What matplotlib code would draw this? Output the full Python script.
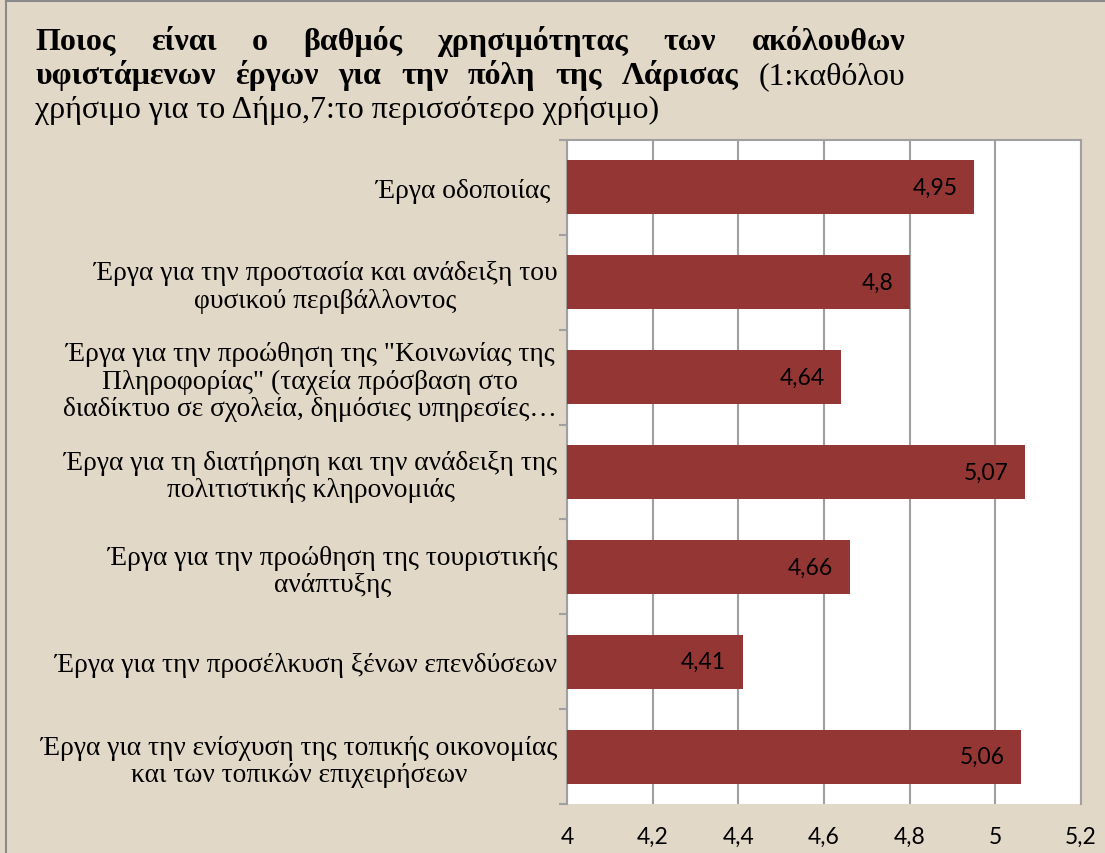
import matplotlib
matplotlib.use("Agg")
import matplotlib.pyplot as plt
from matplotlib.lines import Line2D

categories = [
    "Έργα οδοποιίας ",
    "Έργα για την προστασία και ανάδειξη του\nφυσικού περιβάλλοντος",
    "Έργα για την προώθηση της \"Κοινωνίας της\nΠληροφορίας\" (ταχεία πρόσβαση στο\nδιαδίκτυο σε σχολεία, δημόσιες υπηρεσίες…",
    "Έργα για τη διατήρηση και την ανάδειξη της\nπολιτιστικής κληρονομιάς",
    "Έργα για την προώθηση της τουριστικής\nανάπτυξης",
    "Έργα για την προσέλκυση ξένων επενδύσεων",
    "Έργα για την ενίσχυση της τοπικής οικονομίας\nκαι των τοπικών επιχειρήσεων",
]
values = [4.95, 4.8, 4.64, 5.07, 4.66, 4.41, 5.06]
value_labels = ["4,95", "4,8", "4,64", "5,07", "4,66", "4,41", "5,06"]
xticks = [4.0, 4.2, 4.4, 4.6, 4.8, 5.0, 5.2]
xtick_labels = ["4", "4,2", "4,4", "4,6", "4,8", "5", "5,2"]

title_line1 = ["Ποιος", "είναι", "ο", "βαθμός", "χρησιμότητας", "των", "ακόλουθων"]
title_line2_bold = ["υφιστάμενων", "έργων", "για", "την", "πόλη", "της", "Λάρισας"]
title_line2_normal = ["(1:καθόλου"]
title_line3 = "χρήσιμο για το Δήμο,7:το περισσότερο χρήσιμο)"

W, H = 1105, 854
BG = "#E2D8C8"
BAR = "#943634"
GRID = "#A0A0A0"

fig = plt.figure(figsize=(W / 100, H / 100), dpi=100)
fig.patch.set_facecolor(BG)

# outer frame (top and left edges)
fig.add_artist(Line2D([6 / W, 6 / W], [0, 1 - 2 / H], color="#8A8A8A", lw=1.5, transform=fig.transFigure))
fig.add_artist(Line2D([6 / W, 1], [1 - 2 / H, 1 - 2 / H], color="#8A8A8A", lw=1.5, transform=fig.transFigure))

left, right, top, bottom = 567, 1081, 141, 805
ax = fig.add_axes([left / W, 1 - bottom / H, (right - left) / W, (bottom - top) / H])
ax.set_facecolor("white")

y = list(range(len(categories)))
ax.barh(y, values, height=0.57, color=BAR, zorder=3)
ax.set_xlim(4.0, 5.2)
ax.set_ylim(len(categories) - 0.5, -0.5)

ax.set_xticks(xticks)
ax.set_xticklabels(xtick_labels, fontfamily="Lato", fontsize=16.5)
ax.tick_params(axis="x", length=0, pad=16)
ax.grid(axis="x", color=GRID, lw=1.5, zorder=0)

ax.set_yticks(y)
ax.set_yticklabels(categories, fontfamily="Liberation Serif", fontsize=19.8,
                   multialignment="center", linespacing=1.12)
ax.tick_params(axis="y", length=0, pad=7)
ax.set_yticks([i + 0.5 for i in range(-1, len(categories))], minor=True)
ax.tick_params(axis="y", which="minor", length=6, width=1.5, color=GRID)

for s in ["left", "top", "right"]:
    ax.spines[s].set_color(GRID)
    ax.spines[s].set_linewidth(1.5)
ax.spines["bottom"].set_visible(False)

for yi, v, lab in zip(y, values, value_labels):
    ax.annotate(lab, xy=(v, yi), xytext=(-12, 0), textcoords="offset points",
                ha="right", va="center", fontfamily="Lato", fontsize=16.5, color="black", zorder=4)

# Title, justified
renderer = fig.canvas.get_renderer()
TS = 23
def place_line(words, weights, x0, x1, ybase, justify=True):
    texts = []
    for w, wt in zip(words, weights):
        t = fig.text(0, 1 - ybase / H, w, fontfamily="Liberation Serif", fontsize=TS,
                     fontweight=wt, va="baseline", ha="left")
        texts.append(t)
    widths = [t.get_window_extent(renderer).width for t in texts]
    if justify and len(texts) > 1:
        gap = (x1 - x0 - sum(widths)) / (len(texts) - 1)
    else:
        gap = TS * 100 / 72 * 0.25
    x = x0
    for t, wd in zip(texts, widths):
        t.set_x(x / W)
        x += wd + gap

place_line(title_line1, ["bold"] * len(title_line1), 35, 905, 50)
place_line(title_line2_bold + title_line2_normal,
           ["bold"] * len(title_line2_bold) + ["normal"] * len(title_line2_normal), 35, 905, 84)
fig.text(35 / W, 1 - 118 / H, title_line3, fontfamily="Liberation Serif", fontsize=TS,
         va="baseline", ha="left")

fig.savefig("out.png", dpi=100, facecolor=BG)
